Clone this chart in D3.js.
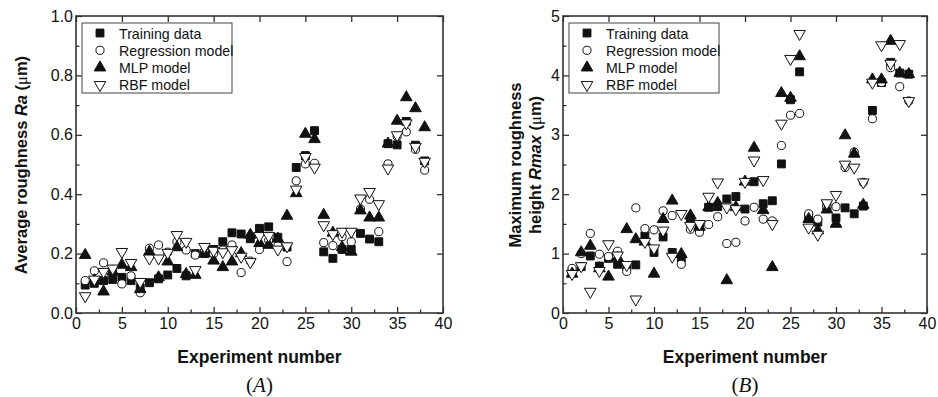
<!DOCTYPE html>
<html>
<head>
<meta charset="utf-8">
<script src="https://cdn.jsdelivr.net/npm/d3@7"></script>
<style>
  body { margin: 0; background: #fff; }
  svg { display: block; font-family: "Liberation Sans", Arial, sans-serif; }
  .domain { display: none; }
</style>
</head>
<body>
<svg id="chart" width="938" height="397"></svg>
<script>
// experiment numbers 1..38
const experiments = d3.range(1, 39);

// panel A: average roughness Ra (um)
const raTraining = [0.094, 0.10, 0.109, 0.113, 0.12, 0.109, 0.085, 0.102, 0.115, 0.128, 0.15, 0.125, 0.20, 0.20, 0.214, 0.24, 0.27, 0.266, 0.25, 0.285, 0.29, 0.255, 0.222, 0.49, 0.53, 0.614, 0.206, 0.184, 0.214, 0.214, 0.268, 0.249, 0.24, 0.57, 0.566, 0.645, 0.565, 0.512];
const raRegression = [0.109, 0.142, 0.169, 0.147, 0.098, 0.125, 0.068, 0.218, 0.229, 0.205, 0.24, 0.212, 0.195, 0.205, 0.20, 0.212, 0.229, 0.136, 0.175, 0.214, 0.245, 0.226, 0.173, 0.445, 0.502, 0.504, 0.237, 0.227, 0.257, 0.24, 0.35, 0.383, 0.274, 0.502, 0.595, 0.61, 0.551, 0.481];
const raMLP = [0.195, 0.11, 0.072, 0.139, 0.162, 0.154, 0.08, 0.206, 0.12, 0.173, 0.221, 0.131, 0.128, 0.20, 0.176, 0.154, 0.173, 0.201, 0.263, 0.235, 0.229, 0.25, 0.327, 0.403, 0.603, 0.585, 0.33, 0.27, 0.221, 0.206, 0.345, 0.321, 0.321, 0.57, 0.647, 0.726, 0.689, 0.625];
const raRBF = [0.057, 0.113, 0.139, 0.15, 0.206, 0.169, 0.105, 0.184, 0.184, 0.203, 0.263, 0.24, 0.145, 0.223, 0.21, 0.205, 0.212, 0.19, 0.172, 0.26, 0.26, 0.214, 0.225, 0.416, 0.526, 0.49, 0.296, 0.266, 0.274, 0.274, 0.386, 0.408, 0.367, 0.487, 0.599, 0.639, 0.56, 0.51];

// panel B: maximum roughness height Rmax (um)
const rmaxTraining = [0.7, 0.78, 0.96, 0.79, 0.92, 0.82, 0.78, 0.81, 1.3, 1.02, 1.28, 1.02, 0.92, 1.58, 1.45, 1.78, 1.79, 1.92, 1.96, 1.75, 2.21, 1.84, 1.89, 2.51, 3.59, 4.06, 1.6, 1.53, 1.8, 1.60, 1.77, 1.67, 1.8, 3.41, 3.88, 4.22, 4.04, 4.02];
const rmaxRegression = [0.75, 1.0, 1.34, 0.99, 0.95, 1.04, 0.70, 1.77, 1.42, 1.40, 1.72, 1.64, 0.82, 1.41, 1.36, 1.49, 1.62, 1.17, 1.19, 1.55, 1.78, 1.58, 1.55, 2.82, 3.33, 3.36, 1.67, 1.58, 1.79, 1.79, 2.45, 2.71, 2.2, 3.27, 3.88, 4.13, 3.81, 3.57];
const rmaxMLP = [0.66, 1.02, 1.13, 0.75, 0.61, 0.93, 1.41, 1.24, 1.2, 0.66, 1.58, 1.89, 0.99, 1.64, 1.45, 1.78, 1.85, 0.55, 1.78, 2.21, 2.78, 1.73, 0.77, 3.70, 3.62, 4.32, 1.58, 1.39, 1.74, 1.50, 2.99, 2.68, 1.82, 3.93, 3.93, 4.58, 4.04, 4.02];
const rmaxRBF = [0.66, 0.79, 0.36, 0.71, 1.16, 0.97, 0.81, 0.23, 1.2, 1.09, 1.39, 0.95, 1.67, 1.47, 1.5, 1.96, 2.2, 1.78, 1.75, 2.21, 2.57, 2.24, 1.5, 3.19, 4.28, 4.70, 1.44, 1.32, 1.85, 1.99, 2.50, 2.45, 2.2, 3.88, 4.51, 4.2, 4.53, 3.57];

const seriesNames = ['Training data', 'Regression model', 'MLP model', 'RBF model'];
const xTicks = [0, 5, 10, 15, 20, 25, 30, 35, 40];
const raTicks = [0.0, 0.2, 0.4, 0.6, 0.8, 1.0];
const rmaxTicks = [0, 1, 2, 3, 4, 5];

// marker styles, in legend order
const markers = [
  { type: d3.symbolSquare, size: 62, fill: '#111', rot: 0 },
  { type: d3.symbolCircle, size: 52, fill: '#fff', rot: 0 },
  { type: d3.symbolTriangle, size: 58, fill: '#111', rot: 0 },
  { type: d3.symbolTriangle, size: 58, fill: '#fff', rot: 180 }
];

const svg = d3.select('#chart');

function drawPanel(cfg) {
  const x = d3.scaleLinear().domain([0, 40]).range([cfg.left, cfg.right]);
  const y = d3.scaleLinear().domain([0, cfg.ymax]).range([313, 16]);
  const g = svg.append('g');

  // minor ticks
  g.append('g').attr('transform', 'translate(0,313)')
    .call(d3.axisBottom(x).tickValues(d3.range(2.5, 40, 5)).tickSize(-3.5).tickFormat(''));
  g.append('g').attr('transform', `translate(${cfg.left},0)`)
    .call(d3.axisLeft(y).tickValues(cfg.minor).tickSize(-3.5).tickFormat(''));

  // major ticks, labels
  g.append('g').attr('class', 'xaxis').attr('transform', 'translate(0,313)')
    .call(d3.axisBottom(x).tickValues(xTicks).tickSize(-6).tickPadding(5));
  g.append('g').attr('transform', 'translate(0,16)')
    .call(d3.axisTop(x).tickValues(xTicks).tickSize(-6).tickFormat(''));
  g.append('g').attr('class', 'yaxis').attr('transform', `translate(${cfg.left},0)`)
    .call(d3.axisLeft(y).tickValues(cfg.ticks).tickSize(-6).tickPadding(5).tickFormat(cfg.fmt));
  g.append('g').attr('transform', `translate(${cfg.right},0)`)
    .call(d3.axisRight(y).tickValues(cfg.ticks).tickSize(-6).tickFormat(''));

  g.selectAll('.tick line').attr('stroke', '#222').attr('stroke-width', 1.2);
  g.selectAll('.tick text').attr('font-size', 16).attr('fill', '#111')
    .attr('font-family', '"Liberation Sans", Arial, sans-serif');
  g.selectAll('.yaxis .tick text').attr('dx', 2);

  g.append('rect')
    .attr('x', cfg.left).attr('y', 16)
    .attr('width', cfg.right - cfg.left).attr('height', 297)
    .attr('fill', 'none').attr('stroke', '#333').attr('stroke-width', 1.6);

  // data points
  cfg.series.forEach((vals, i) => {
    const m = markers[i];
    const sym = d3.symbol().type(m.type).size(m.size);
    g.append('g').selectAll('path')
      .data(vals)
      .join('path')
      .attr('d', sym)
      .attr('transform', (d, j) => `translate(${x(experiments[j])},${y(d)}) rotate(${m.rot})`)
      .attr('fill', m.fill)
      .attr('stroke', '#111')
      .attr('stroke-width', 1);
  });

  // legend
  const lg = g.append('g');
  lg.append('rect')
    .attr('x', cfg.left + 6).attr('y', 23)
    .attr('width', 150).attr('height', 70)
    .attr('fill', '#fff').attr('stroke', '#444').attr('stroke-width', 1);
  seriesNames.forEach((name, i) => {
    const m = markers[i];
    const cy = 33 + i * 17.3;
    lg.append('path')
      .attr('d', d3.symbol().type(m.type).size(m.size)())
      .attr('transform', `translate(${cfg.left + 24},${cy}) rotate(${m.rot})`)
      .attr('fill', m.fill).attr('stroke', '#111');
    lg.append('text')
      .attr('x', cfg.left + 43).attr('y', cy + 5.5)
      .attr('font-size', 14.2).attr('fill', '#111')
      .text(name);
  });

  const cx = (cfg.left + cfg.right) / 2;
  g.append('text')
    .attr('x', cx).attr('y', 363)
    .attr('text-anchor', 'middle')
    .attr('font-size', 17.5).attr('font-weight', 'bold').attr('fill', '#111')
    .text('Experiment number');
  const cap = g.append('text')
    .attr('x', cx).attr('y', 392)
    .attr('text-anchor', 'middle')
    .attr('font-family', '"Liberation Serif", "Times New Roman", serif')
    .attr('font-size', 21).attr('fill', '#111');
  cap.append('tspan').text('(');
  cap.append('tspan').attr('font-style', 'italic').text(cfg.caption);
  cap.append('tspan').text(')');

  cfg.title(g);
}

drawPanel({
  left: 76, right: 443, ymax: 1.0,
  ticks: raTicks, minor: d3.range(0.1, 1.0, 0.2),
  fmt: d3.format('.1f'),
  series: [raTraining, raRegression, raMLP, raRBF],
  caption: 'A',
  title: g => {
    const t = g.append('text')
      .attr('transform', 'translate(27,165) rotate(-90)')
      .attr('text-anchor', 'middle')
      .attr('font-size', 16.5).attr('font-weight', 'bold').attr('fill', '#111');
    t.append('tspan').text('Average roughness ');
    t.append('tspan').attr('font-style', 'italic').text('Ra');
    t.append('tspan').text(' (');
    t.append('tspan').attr('font-weight', 'normal').attr('font-family', '"Liberation Serif", serif').text('μ');
    t.append('tspan').text('m)');
  }
});

drawPanel({
  left: 563, right: 927, ymax: 5,
  ticks: rmaxTicks, minor: d3.range(0.5, 5, 1),
  fmt: d3.format('d'),
  series: [rmaxTraining, rmaxRegression, rmaxMLP, rmaxRBF],
  caption: 'B',
  title: g => {
    g.append('text')
      .attr('transform', 'translate(521,165) rotate(-90)')
      .attr('text-anchor', 'middle')
      .attr('font-size', 16.5).attr('font-weight', 'bold').attr('fill', '#111')
      .text('Maximum roughness');
    const t2 = g.append('text')
      .attr('transform', 'translate(541,165) rotate(-90)')
      .attr('text-anchor', 'middle')
      .attr('font-size', 16.5).attr('font-weight', 'bold').attr('fill', '#111');
    t2.append('tspan').text('height ');
    t2.append('tspan').attr('font-style', 'italic').text('Rmax');
    t2.append('tspan').text(' (');
    t2.append('tspan').attr('font-weight', 'normal').attr('font-family', '"Liberation Serif", serif').text('μ');
    t2.append('tspan').text('m)');
  }
});
</script>
</body>
</html>
